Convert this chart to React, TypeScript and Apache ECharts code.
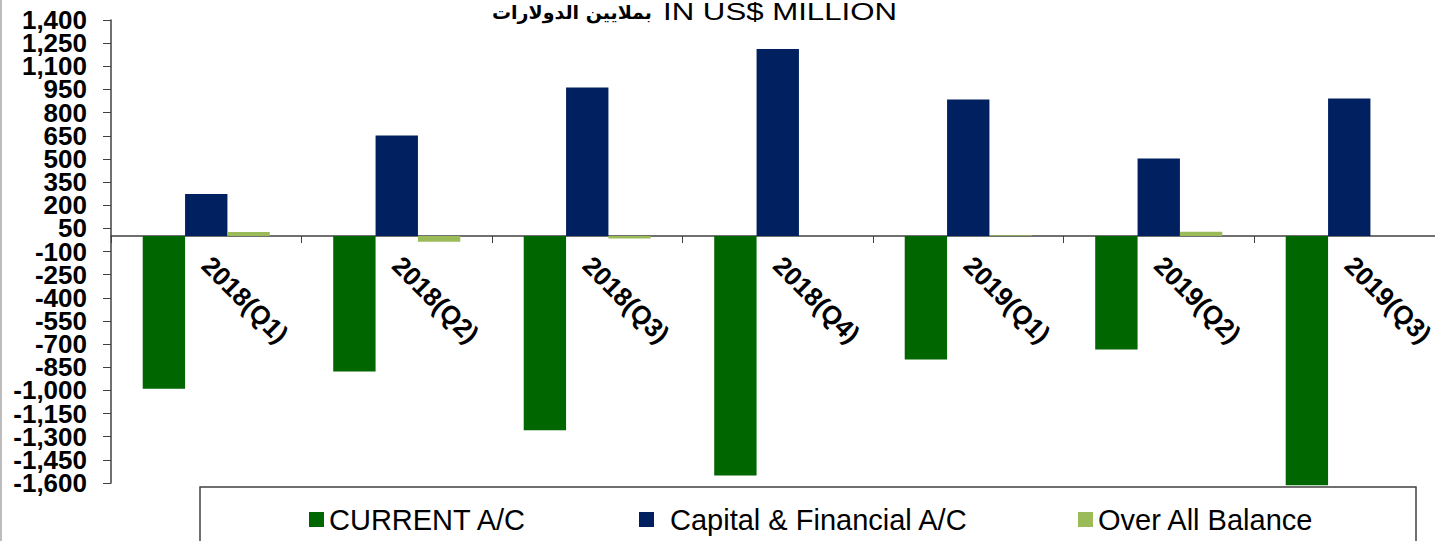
import React, { useEffect, useRef } from "react";
import * as echarts from "echarts";

const categories = ["2018(Q1)", "2018(Q2)", "2018(Q3)", "2018(Q4)", "2019(Q1)", "2019(Q2)", "2019(Q3)"];
const currentAC = [-990, -878, -1258, -1552, -800, -735, -1615];
const capitalFinancial = [272, 651, 962, 1212, 885, 502, 891];
const overallBalance = [26, -37, -16, 0, 5, 28, 0];
const yTicks = [
  -1600, -1450, -1300, -1150, -1000, -850, -700, -550, -400, -250, -100,
  50, 200, 350, 500, 650, 800, 950, 1100, 1250, 1400,
];
const seriesNames = ["CURRENT A/C", "Capital & Financial A/C", "Over All Balance"];
const titleArabic = "بملايين الدولارات";
const titleEnglish = "IN US$ MILLION";

const FONT = "'Liberation Sans', Arial, sans-serif";

export default function App() {
  const ref = useRef<HTMLDivElement>(null);
  useEffect(() => {
    if (!ref.current) return;
    const chart = echarts.init(ref.current, null, { renderer: "svg" });
    const axisColor = "#404040";
    const evenTicks = yTicks.filter((_, i) => i % 2 === 0);
    const oddTicks = yTicks.filter((_, i) => i % 2 === 1);
    const yLabelStyle = {
      margin: 24,
      color: "#000",
      fontSize: 26,
      fontWeight: "bold",
      fontFamily: FONT,
      showMinLabel: true,
      showMaxLabel: true,
      formatter: (v: number) => v.toLocaleString("en-US"),
    };
    chart.setOption({
      animation: false,
      backgroundColor: "#ffffff",
      grid: { left: 111, right: -9.5, top: 20, bottom: 58, outerBoundsMode: "none" },
      xAxis: {
        type: "category",
        data: categories,
        offset: -247,
        axisLine: { onZero: false, lineStyle: { color: axisColor, width: 1.5 } },
        axisTick: { show: true, length: 7, inside: false, lineStyle: { color: axisColor } },
        axisLabel: {
          interval: 0,
          rotate: -45,
          margin: 25,
          color: "#000",
          fontSize: 26,
          fontWeight: "bold",
          fontFamily: FONT,
        },
        splitLine: { show: false },
      },
      yAxis: [
        {
          type: "value",
          min: -1600,
          max: 1400,
          position: "left",
          axisLine: { show: true, lineStyle: { color: axisColor, width: 1.5 } },
          axisTick: { show: true, length: 8, customValues: yTicks, lineStyle: { color: axisColor } },
          axisLabel: { ...yLabelStyle, customValues: evenTicks },
          splitLine: { show: false },
        },
        {
          type: "value",
          min: -1600,
          max: 1400,
          position: "left",
          offset: 0,
          axisLine: { show: false },
          axisTick: { show: false },
          axisLabel: { ...yLabelStyle, customValues: oddTicks },
          splitLine: { show: false },
        },
      ],
      legend: [
        {
          data: [seriesNames[0]], left: 309, top: 505, padding: 0, itemWidth: 15, itemHeight: 15,
          icon: "rect", selectedMode: false,
          textStyle: { fontSize: 29, color: "#000", fontFamily: FONT },
        },
        {
          data: [seriesNames[1]], left: 639, top: 505, padding: 0, itemWidth: 15, itemHeight: 15,
          icon: "rect", selectedMode: false,
          textStyle: { fontSize: 29, color: "#000", fontFamily: FONT, padding: [0, 0, 0, 11] },
        },
        {
          data: [seriesNames[2]], left: 1078, top: 505, padding: 0, itemWidth: 15, itemHeight: 15,
          icon: "rect", selectedMode: false,
          textStyle: { fontSize: 29, color: "#000", fontFamily: FONT },
        },
      ],
      graphic: [
        { type: "rect", left: 0, top: 0, shape: { width: 2, height: 541 }, style: { fill: "#bdbdbd" }, silent: true },
        {
          type: "rect",
          shape: { x: 200, y: 487, width: 1216, height: 80 },
          style: { fill: "none", stroke: "#404040", lineWidth: 1.5 },
          silent: true,
          z: -1,
        },
        {
          type: "text",
          x: 652,
          y: 12,
          style: {
            text: titleArabic,
            fontSize: 19,
            fontWeight: "bold",
            fontFamily: "'DejaVu Sans', sans-serif",
            fill: "#000",
            textAlign: "right",
            textVerticalAlign: "middle",
          },
          silent: true,
        },
        {
          type: "text",
          x: 663,
          y: 12,
          scaleX: 1.3,
          style: {
            text: titleEnglish,
            fontSize: 24,
            fontFamily: FONT,
            fill: "#000",
            textAlign: "left",
            textVerticalAlign: "middle",
          },
          silent: true,
        },
      ],
      series: [
        {
          name: seriesNames[0], type: "bar", data: currentAC, barGap: "0%", barCategoryGap: "33.3%",
          clip: false, itemStyle: { color: "#006600" },
        },
        {
          name: seriesNames[1], type: "bar", data: capitalFinancial, barGap: "0%", barCategoryGap: "33.3%",
          clip: false, itemStyle: { color: "#002060" },
        },
        {
          name: seriesNames[2], type: "bar", data: overallBalance, barGap: "0%", barCategoryGap: "33.3%",
          clip: false, itemStyle: { color: "#9BBB59" },
        },
      ],
    });
    return () => chart.dispose();
  }, []);
  return <div ref={ref} style={{ position: "fixed", left: 0, top: 0, width: 1435, height: 541 }} />;
}
